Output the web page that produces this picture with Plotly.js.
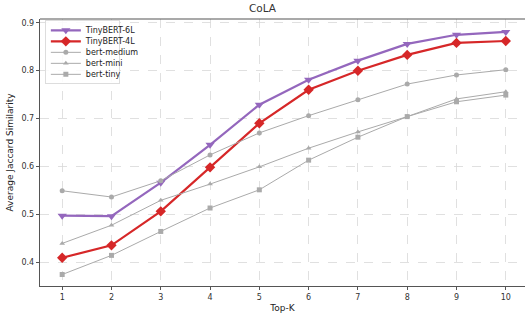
<!DOCTYPE html>
<html>
<head>
<meta charset="utf-8">
<script src="https://cdn.plot.ly/plotly-3.0.1.min.js"></script>
<style>html,body{margin:0;padding:0;background:#fff}#chart{width:525px;height:320px}</style>
</head>
<body>
<div id="chart"></div>
<script>
const topK = [1,2,3,4,5,6,7,8,9,10];
const tinybert6L = [0.497,0.496,0.566,0.645,0.729,0.781,0.821,0.856,0.875,0.881];
const tinybert4L = [0.409,0.435,0.506,0.598,0.690,0.760,0.800,0.833,0.858,0.862];
const bertMedium = [0.549,0.536,0.570,0.624,0.670,0.706,0.739,0.772,0.791,0.802];
const bertMini   = [0.439,0.477,0.529,0.563,0.599,0.638,0.672,0.704,0.741,0.756];
const bertTiny   = [0.374,0.414,0.464,0.513,0.551,0.613,0.661,0.704,0.735,0.749];

const F = 'DejaVu Sans, sans-serif';
function tr(name, y, color, sym, lw, ms){
  return {x: topK, y: y, name: name, type:'scatter', mode:'lines+markers',
    line:{color:color, width:lw}, marker:{color:color, symbol:sym, size:ms}};
}
const data = [
  tr('TinyBERT-6L', tinybert6L, '#9467bd', 'triangle-down', 2.2, 8),
  tr('TinyBERT-4L', tinybert4L, '#d62728', 'diamond', 2.2, 8),
  tr('bert-medium', bertMedium, '#aaaaaa', 'circle', 1, 5),
  tr('bert-mini', bertMini, '#aaaaaa', 'triangle-up', 1, 5),
  tr('bert-tiny', bertTiny, '#aaaaaa', 'square', 1, 5)
];
const layout = {
  width:525, height:320,
  margin:{l:40, r:0, t:19, b:34},
  paper_bgcolor:'#fff', plot_bgcolor:'#fff',
  font:{family:F, size:8, color:'#333'},
  title:{text:'CoLA', font:{family:F, size:10.5, color:'#333', weight:'normal'}, x:0.5, xanchor:'center', y:0.985, yanchor:'top'},
  xaxis:{range:[0.55,10.39], tickvals:topK, ticks:'outside', ticklen:3, tickcolor:'#555',
    showgrid:true, gridcolor:'#d8d8d8', griddash:'dash', gridwidth:0.8,
    showline:true, linecolor:'#555', linewidth:1.2, mirror:false, zeroline:false,
    title:{text:'Top-K', font:{family:F, size:9, color:'#222'}, standoff:4},
    tickfont:{family:F, size:8, color:'#333'}},
  yaxis:{range:[0.35,0.908], tickvals:[0.4,0.5,0.6,0.7,0.8,0.9], ticks:'outside', ticklen:3, tickcolor:'#555',
    showgrid:true, gridcolor:'#d8d8d8', griddash:'dash', gridwidth:0.8,
    showline:true, linecolor:'#555', linewidth:1.2, zeroline:false,
    title:{text:'Average Jaccard Similarity', font:{family:F, size:9, color:'#222'}, standoff:6},
    tickfont:{family:F, size:8, color:'#333'}},
  shapes:[{type:'line', xref:'paper', yref:'paper', x0:0, x1:1, y0:1, y1:1, line:{color:'#555', width:1.2}}],
  legend:{x:0.01, y:0.995, xanchor:'left', yanchor:'top', bgcolor:'rgba(255,255,255,0.85)',
    bordercolor:'#ddd', borderwidth:1, font:{family:F, size:8, color:'#222'}, tracegroupgap:0, itemwidth:30},
  showlegend:true
};
Plotly.newPlot('chart', data, layout, {displayModeBar:false, staticPlot:true}).then(function(gd){
  // compact the legend rows to match the reference spacing
  const leg = gd.querySelector('g.legend');
  if(!leg) return;
  const items = leg.querySelectorAll('g.traces');
  const rowH = 11;
  const y0 = 10;
  items.forEach(function(g, i){
    const m = /translate\(([-\d.]+)[ ,]+([-\d.]+)\)/.exec(g.getAttribute('transform') || '');
    if(!m) return;
    const x = parseFloat(m[1]);
    g.setAttribute('transform', 'translate(' + x + ',' + (y0 + i*rowH) + ')');
  });
  const bg = leg.querySelector('rect.bg');
  if(bg){
    bg.setAttribute('height', items.length*rowH + 8);
    bg.setAttribute('width', 74);
  }
});
</script>
</body>
</html>
